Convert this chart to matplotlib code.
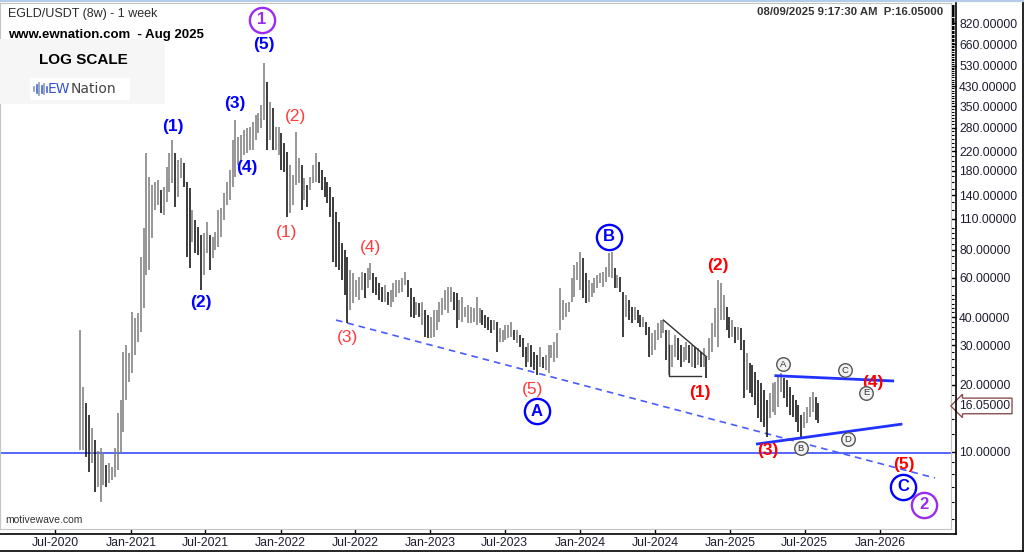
import numpy as np
import pandas as pd
import matplotlib
matplotlib.use("Agg")
import matplotlib.pyplot as plt
import matplotlib.dates as mdates
import matplotlib.ticker as mticker
from matplotlib.lines import Line2D
from matplotlib.patches import Rectangle

plt.rcParams['font.family'] = ['Liberation Sans', 'DejaVu Sans']

# EGLD/USDT weekly bars, first week starts 2020-08-31
highs = [35.1, 19.5, 16.5, 14.6, 12.8, 11.3, 10.1, 10.4, 9.9, 8.75,
         8.9, 8.6, 10.4, 14.9, 17.1, 27.9, 30.1, 27.7, 42.2, 39.7,
         41.8, 74, 100, 216, 169, 156, 160, 164, 148, 152,
         187, 216, 247, 216, 201, 205, 195, 160, 151, 120,
         109, 101, 93, 95, 106, 93, 91, 96, 120, 123,
         143, 160, 182, 247, 303, 255, 260, 274, 279, 282,
         297, 319, 326, 354, 546, 448, 365, 343, 282, 282,
         266, 240, 218, 191, 173, 268, 205, 191, 167, 156,
         169, 191, 216, 197, 182, 169, 160, 152, 137, 118,
         106, 86, 80, 74, 65, 63, 58.6, 60.4, 63.6, 63,
         66.3, 69.8, 63, 60.4, 56.8, 54.5, 55.7, 51.8, 52.9, 56.8,
         58.6, 58.6, 59.8, 63.6, 58.6, 54, 49.2, 46.8, 46.3, 46.8,
         43, 40.9, 40.1, 43, 43, 46.8, 48.7, 52.9, 54.5, 54.5,
         51.8, 51.3, 47.7, 49.2, 44.4, 45.3, 44.4, 44, 49.2, 44,
         43, 40.9, 40.1, 38.8, 38.8, 38, 35.8, 35.1, 36.9, 36.9,
         38, 35.1, 35.1, 33.3, 32.3, 29.4, 30.7, 30.1, 27.9, 27.1,
         29.4, 26.6, 27.1, 30.1, 30.1, 31, 34, 54, 47.7, 46.3,
         46.8, 59.8, 68.4, 70.5, 78, 73.5, 63, 58.6, 56.8, 59.8,
         61.7, 63, 63.6, 67, 77, 78, 66.3, 61.7, 60.4, 51.8,
         50.2, 47.7, 44.4, 44.4, 43, 40.9, 40.1, 38, 36.1, 34,
         35.1, 37.6, 38.8, 38.8, 35.1, 35.1, 30.1, 33.3, 32.3, 30.1,
         29.4, 31, 30.1, 30.1, 29.4, 29.1, 27.9, 29.1, 26.6, 32.3,
         37.6, 44, 58.6, 56.8, 50.2, 44.4, 40.1, 38.8, 36.1, 36.1,
         35.8, 31.6, 27.7, 25, 24.5, 22.8, 21, 20.3, 18.9, 17.1,
         18.3, 20.3, 20.5, 22.1, 22.5, 21.4, 21, 19.5, 17.9, 17.1,
         16.2, 14.6, 15.1, 15.9, 17.6, 18.5, 17.6, 16.6]
lows = [10.2, 10.2, 9.5, 8.1, 8.9, 6.6, 7.0, 6.0, 7.1, 7.0,
        7.3, 7.5, 7.7, 8.3, 9.9, 12.3, 17.1, 20.5, 22.5, 27.1,
        31, 34.4, 44, 61.7, 65, 90, 120, 127, 117, 114,
        131, 145, 159, 124, 137, 167, 152, 74, 66, 87,
        77, 76, 52.9, 61.7, 77, 65, 73.5, 80, 82, 91,
        109, 127, 133, 152, 169, 191, 201, 212, 216, 223,
        223, 247, 266, 279, 303, 223, 247, 223, 223, 212,
        182, 178, 112, 117, 127, 156, 159, 120, 133, 124,
        148, 159, 160, 159, 148, 137, 129, 112, 70.5, 67,
        65, 58.6, 50.2, 37.6, 43, 46.3, 49.2, 47.7, 52.9, 48.7,
        54, 58.6, 51.3, 50.2, 47.7, 46.8, 46.8, 45.3, 44.4, 46.8,
        49.2, 51.3, 51.8, 55.7, 49.2, 40.1, 39.7, 40.9, 40.1, 36.9,
        32.6, 32.3, 32.3, 32.6, 35.1, 38, 40.9, 43, 41.8, 46.8,
        43, 35.8, 38.8, 38, 40.1, 37.6, 37.6, 38, 36.9, 37.6,
        36.9, 35.8, 35.1, 34, 35.1, 27.9, 31, 31, 31.6, 32.3,
        32.6, 31.6, 30.7, 29.4, 26.6, 23.9, 25.2, 23.9, 23.2, 22.1,
        23.9, 23.7, 23.2, 22.5, 26.3, 25.2, 26.3, 35.1, 38.8, 40.1,
        42.2, 46.8, 49.2, 58.6, 52.9, 48.7, 46.3, 46.8, 49.2, 51.3,
        54, 56.8, 54.5, 57.5, 60.4, 59.8, 54, 54, 51.8, 32.6,
        40.1, 38.8, 37.6, 38.8, 37.6, 36.1, 36.1, 33.3, 26.6, 27.1,
        28.5, 31.6, 32.3, 34, 25.8, 22.1, 23.9, 26.6, 25.8, 23.9,
        25.2, 25.8, 25, 23.9, 23.7, 24.5, 23.9, 23.9, 21.4, 25.8,
        27.9, 32.6, 29.4, 38.8, 38.8, 35.1, 32.3, 32.6, 30.7, 31.6,
        28.5, 17.4, 18.9, 18.3, 17.6, 16.2, 14.2, 13.6, 12.9, 11.7,
        14.2, 15.1, 14.6, 15.9, 18.5, 17.4, 15.9, 14.6, 14.3, 13.6,
        12.3, 11.4, 12.8, 13.5, 14.3, 15.1, 13.9, 13.5]
weeks = pd.date_range('2020-08-31', periods=len(highs), freq='7D')
last_price = 16.05

price_levels = [10, 20, 30, 40, 60, 80, 110, 140, 180, 220, 280, 350, 430, 530, 660, 820]
support_level = 9.9

BLUE = '#0000ff'
RED = '#ff0000'
LRED = '#ff3b3b'
PURPLE = '#9a2cf0'

# wave labels: text, date, price, colour, weight
wave_labels = [
    ("(1)", "2021-04-13", 285, BLUE, "bold"),
    ("(2)", "2021-06-21", 46.7, BLUE, "bold"),
    ("(3)", "2021-09-11", 358, BLUE, "bold"),
    ("(4)", "2021-10-11", 187, BLUE, "bold"),
    ("(5)", "2021-11-21", 656, BLUE, "bold"),
    ("(1)", "2022-01-16", 95, LRED, "normal"),
    ("(2)", "2022-02-07", 316, LRED, "normal"),
    ("(3)", "2022-06-12", 32.6, LRED, "normal"),
    ("(4)", "2022-08-07", 81.4, LRED, "normal"),
    ("(5)", "2023-09-08", 19.1, LRED, "normal"),
    ("(1)", "2024-10-19", 18.35, RED, "bold"),
    ("(2)", "2024-12-02", 67.7, RED, "bold"),
    ("(3)", "2025-04-03", 10.1, RED, "bold"),
    ("(4)", "2025-12-15", 20.5, RED, "bold"),
    ("(5)", "2026-02-28", 8.75, RED, "bold"),
]
big_circles = [
    ("1", "2021-11-16", 849, PURPLE),
    ("A", "2023-09-17", 15.2, BLUE),
    ("B", "2024-03-11", 91.2, BLUE),
    ("C", "2026-02-26", 6.98, BLUE),
    ("2", "2026-04-18", 5.8, PURPLE),
]
small_circles = [
    ("A", "2025-05-09", 24.7),
    ("B", "2025-06-22", 10.4),
    ("C", "2025-10-07", 23.2),
    ("D", "2025-10-15", 11.4),
    ("E", "2025-11-28", 18.35),
]

W, H = 1024, 552
fx = lambda x: x / W
fy = lambda y: 1 - y / H

fig = plt.figure(figsize=(W / 100, H / 100), dpi=100)
ax = fig.add_axes([0, fy(529), fx(951), (529 - 3) / H])
ax.set_yscale('log')
ax.set_ylim(4.53, 1010)
ax.set_xlim(pd.Timestamp('2020-02-17'), pd.Timestamp('2026-06-23'))

# bar colour: black for a lower-high/lower-low week, grey otherwise
cols = ['#111111' if i > 0 and highs[i] < highs[i - 1] and lows[i] < lows[i - 1] else '#808080'
        for i in range(len(highs))]
ax.vlines(weeks, lows, highs, colors=cols, lw=1.15, zorder=3)

# support line and trend lines
ax.axhline(support_level, color='#5566ff', lw=1.4, zorder=2)
ax.plot(pd.to_datetime(['2022-05-16', '2026-05-15']), [38.8, 7.65], color='#4a5cff',
        lw=1.2, ls=(0, (4, 3)), zorder=2)
ax.plot(pd.to_datetime(['2025-04-22', '2026-02-01']), [21.9, 20.75], color='#2233ff', lw=2, zorder=4)
ax.plot(pd.to_datetime(['2025-03-08', '2026-02-21']), [10.86, 13.3], color='#2233ff', lw=2, zorder=4)
ax.plot(pd.to_datetime(['2024-07-22', '2024-11-04']), [38.8, 26.6], color='#333333', lw=1, zorder=4)
ax.plot(pd.to_datetime(['2024-08-04', '2024-08-04', '2024-10-21']), [30, 21.8, 21.8],
        color='#333333', lw=1, zorder=4)

for txt, d, p, c, w in wave_labels:
    ax.text(pd.Timestamp(d), p, txt, color=c, fontweight=w, fontsize=12.5,
            ha='center', va='center', zorder=6)

for txt, d, p, c in big_circles:
    ax.scatter([pd.Timestamp(d)], [p], s=330, facecolor='white', edgecolor=c, lw=1.7, zorder=6)
    ax.text(pd.Timestamp(d), p, txt, color=c, fontweight='bold', fontsize=12,
            ha='center', va='center', zorder=7)

for txt, d, p in small_circles:
    ax.scatter([pd.Timestamp(d)], [p], s=95, facecolor='#f2f2f2', edgecolor='#555555', lw=1, zorder=6)
    ax.text(pd.Timestamp(d), p, txt, color='#333333', fontsize=6.8,
            ha='center', va='center', zorder=7)

# axes styling
ax.yaxis.tick_right()
ax.yaxis.set_major_locator(mticker.FixedLocator(price_levels))
ax.yaxis.set_major_formatter(mticker.FuncFormatter(lambda v, pos: '%.5f' % v))
minor = list(np.arange(5, 10, 1)) + list(np.arange(12, 50, 2)) + list(np.arange(50, 100, 5)) + \
    list(np.arange(100, 1000, 10))
ax.yaxis.set_minor_locator(mticker.FixedLocator(minor))
ax.yaxis.set_minor_formatter(mticker.NullFormatter())
ax.tick_params(axis='y', which='major', direction='out', length=3.3, width=1, pad=2.5,
               labelsize=8.7, labelcolor='#1e1e30')
ax.tick_params(axis='y', which='minor', direction='out', length=2, width=0.8)

ax.xaxis.set_major_locator(mdates.MonthLocator(bymonth=[1, 7]))
ax.xaxis.set_major_formatter(mdates.DateFormatter('%b-%Y'))
ax.tick_params(axis='x', direction='out', length=3, width=1, pad=2.5, labelsize=8.8,
               labelcolor='#1e1e30')
for s in ax.spines.values():
    s.set_color('#c4c4c4')
    s.set_linewidth(0.8)

# current price box on the right axis
ax.text(1.0085, last_price, '%.5f' % last_price, transform=ax.get_yaxis_transform(),
        fontsize=8.7, color='#1e1e30', ha='left', va='center', zorder=8,
        bbox=dict(boxstyle='larrow,pad=0.15', fc='white', ec='#8a5050', lw=1))

# frame lines
fig.add_artist(Line2D([0, fx(956)], [fy(534), fy(534)], color='black', lw=1.2))
fig.add_artist(Line2D([fx(956), fx(956)], [fy(3), fy(534)], color='black', lw=1.2))
fig.add_artist(Line2D([0, fx(1023)], [fy(550.5), fy(550.5)], color='black', lw=1.2))
fig.add_artist(Line2D([fx(1022.5), fx(1022.5)], [fy(0), fy(551)], color='black', lw=1.2))
fig.add_artist(Line2D([0, 1], [fy(0.8), fy(0.8)], color='#b4cde6', lw=1.6))

# header
fig.text(fx(8), fy(14), 'EGLD/USDT (8w) - 1 week', fontsize=9, color='#2b2b2b', va='center')
fig.text(fx(8), fy(35), 'www.ewnation.com  - Aug 2025', fontsize=9.5, fontweight='bold',
         color='black', va='center')
fig.text(fx(943), fy(12), '08/09/2025 9:17:30 AM  P:16.05000', fontsize=8.2, fontweight='bold',
         color='#333333', ha='right', va='center')
fig.add_artist(Rectangle((0, fy(104)), fx(165), (104 - 39) / H, transform=fig.transFigure,
                         fc='#f6f6f6', ec='none', zorder=1))
fig.add_artist(Rectangle((fx(30), fy(100)), fx(100), 22 / H, transform=fig.transFigure,
                         fc='white', ec='none', zorder=1))
fig.text(fx(83), fy(60), 'LOG SCALE', fontsize=11, fontweight='bold', color='black',
         ha='center', va='center', zorder=2)
for k, hgt in enumerate([4, 8, 12, 7, 10, 5]):
    xx = fx(34 + 2.5 * k)
    fig.add_artist(Line2D([xx, xx], [fy(89 + hgt / 2), fy(89 - hgt / 2)],
                          color='#4466cc' if k % 2 else '#8899bb', lw=1.2, zorder=2))
fig.text(fx(48), fy(89), 'EW', fontsize=10, color='#3355cc', va='center', zorder=2,
         family='DejaVu Sans')
fig.text(fx(71), fy(89), 'Nation', fontsize=10, color='#444444', va='center', zorder=2,
         family='DejaVu Sans')
fig.text(fx(5), fy(520), 'motivewave.com', fontsize=7.5, color='#333333', va='center')

fig.savefig('out.png', dpi=100)
